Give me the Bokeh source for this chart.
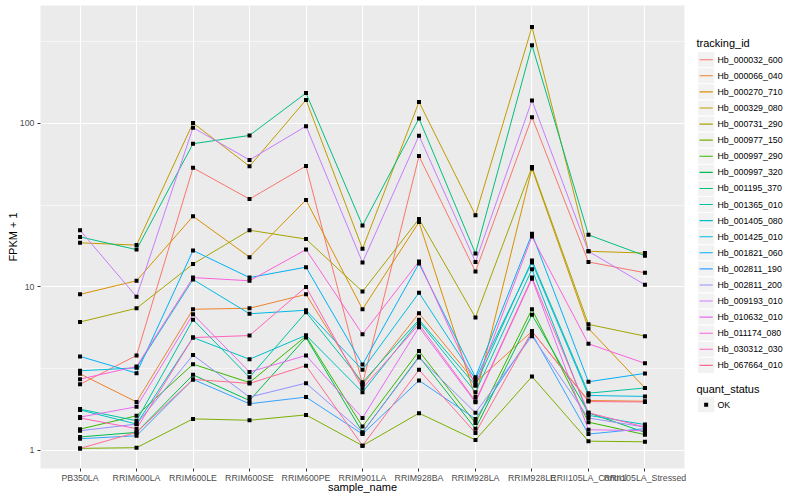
from bokeh.plotting import figure
from bokeh.models import FactorRange, Range1d, FixedTicker, PrintfTickFormatter
from bokeh.layouts import row
from bokeh.embed import file_html
from bokeh.resources import INLINE
from bokeh.core.properties import value

FONT = "Liberation Sans"

samples = ["PB350LA", "RRIM600LA", "RRIM600LE", "RRIM600SE", "RRIM600PE",
           "RRIM901LA", "RRIM928BA", "RRIM928LA", "RRIM928LE",
           "RRII105LA_Control", "RRII105LA_Stressed"]

tracking_ids = ["Hb_000032_600", "Hb_000066_040", "Hb_000270_710", "Hb_000329_080",
                "Hb_000731_290", "Hb_000977_150", "Hb_000997_290", "Hb_000997_320",
                "Hb_001195_370", "Hb_001365_010", "Hb_001405_080", "Hb_001425_010",
                "Hb_001821_060", "Hb_002811_190", "Hb_002811_200", "Hb_009193_010",
                "Hb_010632_010", "Hb_011174_080", "Hb_030312_030", "Hb_067664_010"]

colors = ["#F8766D", "#EA8331", "#D89000", "#C09B00", "#A3A500", "#7CAE00", "#39B600",
          "#00BB4E", "#00BF7D", "#00C1A3", "#00BFC4", "#00BAE0", "#00B0F6", "#35A2FF",
          "#9590FF", "#C77CFF", "#E76BF3", "#FA62DB", "#FF62BC", "#FF6C91"]

# FPKM + 1 per sample (same order as samples)
hb_000032_600 = [2.54, 3.81, 53.4, 34.4, 54.8, 2.55, 63.0, 12.4, 109.0, 14.2, 12.2]
hb_000066_040 = [2.94, 1.98, 7.3, 7.4, 9.0, 2.52, 6.9, 2.61, 5.35, 2.02, 2.0]
hb_000270_710 = [9.0, 10.9, 27.0, 15.2, 34.0, 7.3, 24.9, 2.12, 53.0, 5.57, 2.41]
hb_000329_080 = [18.6, 18.0, 100.4, 54.6, 139.0, 17.1, 135.0, 27.4, 388.0, 16.5, 16.1]
hb_000731_290 = [6.1, 7.4, 13.8, 22.2, 19.6, 9.36, 26.0, 6.5, 54.0, 5.9, 5.0]
hb_000977_150 = [1.03, 1.04, 1.56, 1.53, 1.65, 1.07, 1.69, 1.16, 2.83, 1.14, 1.13]
hb_000997_290 = [1.35, 1.63, 3.37, 2.6, 5.0, 1.40, 4.05, 1.47, 7.3, 1.49, 1.25]
hb_000997_320 = [1.21, 1.29, 2.9, 2.02, 4.9, 1.29, 3.75, 1.36, 6.75, 1.70, 1.29]
hb_001195_370 = [20.2, 16.9, 75.0, 84.3, 153.0, 23.7, 107.0, 16.0, 300.0, 20.8, 15.5]
hb_001365_010 = [1.79, 1.52, 6.3, 2.8, 7.0, 2.61, 6.3, 2.5, 14.5, 2.24, 2.41]
hb_001405_080 = [1.77, 1.45, 4.9, 3.61, 5.06, 2.27, 6.17, 2.27, 12.8, 1.64, 1.44]
hb_001425_010 = [3.07, 3.2, 11.1, 6.85, 7.2, 3.11, 9.2, 2.72, 14.1, 2.17, 2.14]
hb_001821_060 = [3.76, 2.97, 16.7, 11.4, 13.2, 3.35, 13.9, 2.8, 21.1, 2.63, 2.96]
hb_002811_190 = [1.18, 1.23, 2.72, 1.93, 2.12, 1.26, 2.68, 1.56, 5.17, 1.26, 1.36]
hb_002811_200 = [1.32, 1.45, 3.83, 2.12, 2.58, 1.29, 3.7, 1.70, 5.0, 1.58, 1.39]
hb_009193_010 = [22.2, 8.7, 94.0, 59.7, 96.0, 14.1, 84.0, 14.2, 138.0, 16.5, 10.3]
hb_010632_010 = [1.60, 1.85, 6.8, 3.02, 3.81, 1.58, 5.67, 1.97, 11.2, 1.34, 1.32]
hb_011174_080 = [2.73, 3.26, 11.4, 10.9, 16.9, 5.13, 14.3, 2.5, 20.3, 4.49, 3.41]
hb_030312_030 = [1.58, 1.36, 4.9, 5.04, 10.0, 2.4, 5.9, 2.0, 11.4, 1.70, 1.39]
hb_067664_010 = [1.03, 1.29, 2.72, 2.57, 3.3, 1.07, 3.11, 1.28, 5.35, 1.99, 1.98]

series = [hb_000032_600, hb_000066_040, hb_000270_710, hb_000329_080, hb_000731_290,
          hb_000977_150, hb_000997_290, hb_000997_320, hb_001195_370, hb_001365_010,
          hb_001405_080, hb_001425_010, hb_001821_060, hb_002811_190, hb_002811_200,
          hb_009193_010, hb_010632_010, hb_011174_080, hb_030312_030, hb_067664_010]

y_ticks = [1, 10, 100]
y_minor = [10 ** 0.5, 10 ** 1.5, 10 ** 2.5]

p = figure(x_range=FactorRange(*samples, range_padding=0.2, range_padding_units="absolute"),
           y_axis_type="log", y_range=Range1d(0.776, 524.8),
           frame_width=644, frame_height=463,
           output_backend="svg", toolbar_location=None,
           min_border_left=40, min_border_top=5, min_border_bottom=30, min_border_right=6,
           x_axis_label="sample_name", y_axis_label="FPKM + 1")

p.background_fill_color = "#EBEBEB"
p.border_fill_color = "white"
p.outline_line_color = None

p.yaxis.ticker = FixedTicker(ticks=y_ticks, minor_ticks=y_minor)
p.yaxis.formatter = PrintfTickFormatter(format="%d")

for ax in (p.xaxis, p.yaxis):
    ax.axis_line_color = None
    ax.major_tick_line_color = "#333333"
    ax.major_tick_out = 3
    ax.major_tick_in = 0
    ax.minor_tick_line_color = None
    ax.major_label_text_font = FONT
    ax.major_label_text_font_size = "8.8px"
    ax.major_label_text_color = "#4D4D4D"
    ax.axis_label_text_font = FONT
    ax.axis_label_text_font_size = "11px"
    ax.axis_label_text_font_style = "normal"
    ax.axis_label_text_color = "black"

p.xaxis.major_label_standoff = 1
p.xaxis.axis_label_standoff = -5
p.yaxis.major_label_standoff = 2
p.yaxis.axis_label_standoff = -2

p.xgrid.grid_line_color = "white"
p.xgrid.grid_line_width = 1.1
p.ygrid.grid_line_color = "white"
p.ygrid.grid_line_width = 1.1
p.ygrid.minor_grid_line_color = "white"
p.ygrid.minor_grid_line_width = 0.55

for vals, col in zip(series, colors):
    p.line(samples, vals, line_color=col, line_width=1.0)

all_x = [s for vals in series for s in samples]
all_y = [v for vals in series for v in vals]
p.scatter(all_x, all_y, marker="square", size=4, fill_color="black", line_color=None)

# Legend panel drawn in its own small figure, to the right of the main plot
LW, LH = 106, 500
lg = figure(width=LW, height=LH, x_range=Range1d(0, LW), y_range=Range1d(LH, 0),
            output_backend="svg", toolbar_location=None, min_border=0)
lg.axis.visible = False
lg.grid.visible = False
lg.outline_line_color = None
lg.background_fill_color = "white"
lg.border_fill_color = "white"

key = 17.3
n = len(tracking_ids)
kx = 7 + key / 2
key_y = [58.3 + key * i for i in range(n)]
lg.text(x=[6], y=[40], text=["tracking_id"], text_font=value(FONT), text_font_size="11px",
        text_baseline="middle", text_align="left", text_color="black")
lg.rect(x=[kx] * n, y=key_y, width=key, height=key, fill_color="#F2F2F2",
        line_color="white", line_width=1)
lg.segment(x0=[kx - 6.6] * n, y0=key_y, x1=[kx + 6.6] * n, y1=key_y, line_color=colors,
           line_width=1.1)
lg.text(x=[27] * n, y=key_y, text=tracking_ids, text_font=value(FONT), text_font_size="8.8px",
        text_baseline="middle", text_align="left", text_color="black")

lg.text(x=[6], y=[412.7], text=["quant_status"], text_font=value(FONT), text_font_size="11px",
        text_baseline="middle", text_align="left", text_color="black")
lg.rect(x=[kx], y=[429.3], width=key, height=key, fill_color="#F2F2F2",
        line_color="white", line_width=1)
lg.scatter(x=[kx], y=[429.3], marker="square", size=4, fill_color="black", line_color=None)
lg.text(x=[27], y=[429.3], text=["OK"], text_font=value(FONT), text_font_size="8.8px",
        text_baseline="middle", text_align="left", text_color="black")

layout = row(p, lg)
open("out.html", "w").write(file_html(layout, INLINE))
